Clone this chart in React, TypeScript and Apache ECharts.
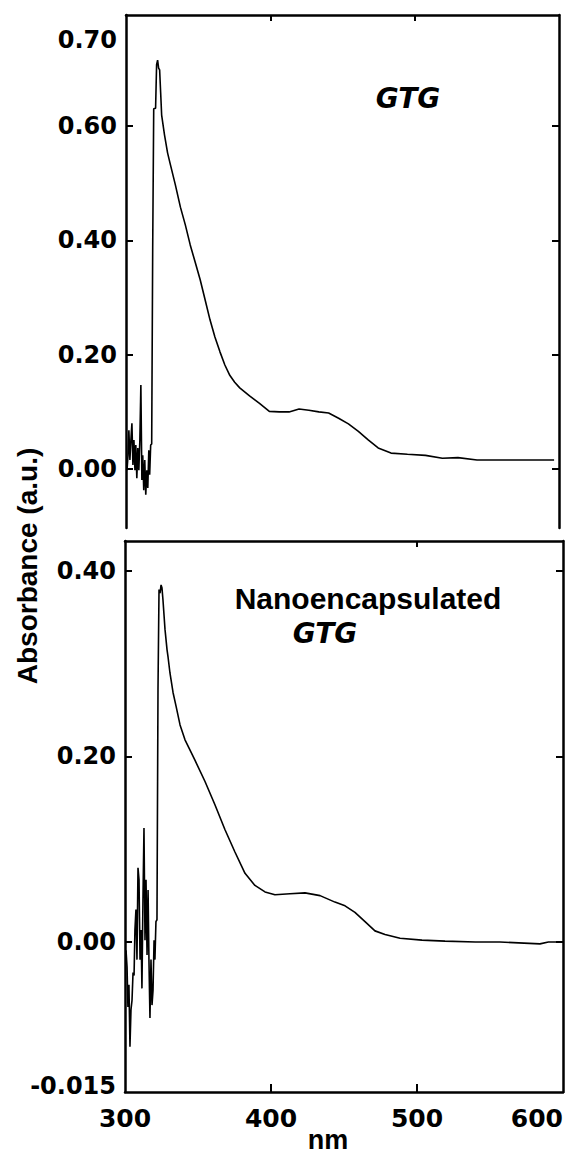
import React, { useEffect, useRef } from "react";
import * as echarts from "echarts";

// ---- data ----
const topWavelength = [300.7, 301.4, 302.0, 302.7, 303.4, 304.1, 304.8, 305.5, 306.2, 306.8, 307.5, 308.2, 308.9, 309.6, 310.3, 311.0, 311.6, 312.3, 313.0, 313.7, 314.4, 315.1, 315.8, 316.4, 317.1, 317.8, 318.5, 319.2, 320.5, 321.2, 321.9, 322.6, 323.3, 324.0, 324.7, 326.7, 328.8, 330.8, 334.2, 337.7, 341.1, 344.5, 347.9, 351.4, 354.8, 358.2, 361.6, 365.1, 368.5, 371.9, 375.3, 378.8, 385.6, 392.5, 399.3, 406.2, 413.0, 419.9, 426.7, 433.6, 440.4, 447.3, 454.1, 461.0, 467.8, 474.7, 483.6, 495.0, 507.5, 519.2, 530.0, 543.2, 560.0, 580.0, 596.6];
const topAbsorbance = [-0.002, 0.024, 0.068, 0.016, 0.051, 0.080, 0.007, 0.051, -0.002, 0.042, -0.016, 0.037, -0.002, 0.051, 0.147, -0.019, 0.024, -0.037, 0.016, -0.045, -0.002, -0.033, 0.033, -0.010, 0.042, 0.044, 0.388, 0.630, 0.631, 0.707, 0.715, 0.701, 0.698, 0.659, 0.619, 0.584, 0.553, 0.532, 0.497, 0.458, 0.427, 0.392, 0.362, 0.331, 0.296, 0.261, 0.231, 0.205, 0.182, 0.164, 0.152, 0.142, 0.128, 0.115, 0.101, 0.100, 0.100, 0.105, 0.103, 0.100, 0.098, 0.089, 0.079, 0.066, 0.051, 0.037, 0.028, 0.026, 0.024, 0.019, 0.020, 0.016, 0.016, 0.016, 0.016];

const bottomWavelength = [300.7, 301.4, 302.0, 302.7, 303.4, 304.1, 304.8, 305.5, 306.2, 306.8, 307.5, 308.2, 308.9, 309.6, 310.3, 311.0, 311.6, 312.3, 313.0, 313.7, 314.4, 315.1, 315.8, 316.4, 317.1, 317.8, 318.5, 319.2, 319.9, 320.5, 321.2, 321.9, 322.6, 323.3, 324.0, 324.7, 325.3, 326.0, 326.7, 327.4, 328.8, 329.5, 330.8, 332.9, 335.0, 337.7, 341.1, 347.9, 354.8, 361.6, 368.5, 375.3, 382.2, 389.0, 395.9, 402.7, 413.0, 423.3, 433.6, 443.8, 450.7, 457.5, 464.4, 471.2, 478.1, 488.4, 503.4, 519.2, 540.0, 556.8, 584.2, 590.0, 598.0];
const bottomAbsorbance = [-0.009, -0.027, -0.070, -0.046, -0.113, -0.073, -0.063, -0.033, -0.036, 0.013, 0.035, -0.019, 0.080, 0.067, -0.019, 0.013, -0.050, 0.045, 0.123, 0.002, 0.067, -0.014, 0.056, -0.019, -0.082, -0.019, -0.068, -0.052, 0.002, -0.019, 0.022, 0.024, 0.272, 0.380, 0.376, 0.385, 0.382, 0.369, 0.353, 0.337, 0.315, 0.307, 0.290, 0.269, 0.254, 0.234, 0.218, 0.196, 0.173, 0.148, 0.121, 0.097, 0.074, 0.061, 0.054, 0.051, 0.052, 0.053, 0.050, 0.043, 0.039, 0.032, 0.022, 0.012, 0.008, 0.004, 0.002, 0.001, 0.000, 0.000, -0.002, 0.000, 0.000];

const xTickValues = [300, 400, 500, 600];
const topTickValues = [0, 0.2, 0.4, 0.6];
const topLabelValues = [0, 0.2, 0.4, 0.6, 0.75];
const topLabelTexts = ["0.00", "0.20", "0.40", "0.60", "0.70"];
const bottomTickValues = [0, 0.2, 0.4];
const bottomLabelValues = [-0.155, 0, 0.2, 0.4];
const bottomLabelTexts = ["-0.015", "0.00", "0.20", "0.40"];

const topTitle = "GTG";
const bottomTitleLine1 = "Nanoencapsulated";
const bottomTitleLine2 = "GTG";
const yTitle = "Absorbance (a.u.)";
const xTitle = "nm";

const pair = (xs: number[], ys: number[]) => xs.map((x, i) => [x, ys[i]]);

const TICK_FONT = "'DejaVu Sans', sans-serif";
const TEXT_FONT = "'Liberation Sans', Arial, sans-serif";

export default function App() {
  const ref = useRef<HTMLDivElement>(null);
  useEffect(() => {
    document.body.style.margin = "0";
    const chart = echarts.init(ref.current!, null, { renderer: "svg" });
    const lineStyle = { color: "#000", width: 2.5 };
    const axisLine = { show: true, onZero: false, lineStyle };
    const tickStyle = { color: "#000", width: 2 };
    const labelStyle = {
      color: "#000",
      fontFamily: TICK_FONT,
      fontWeight: "bold" as const,
      fontSize: 24,
    };
    const topFmt = (v: number) => {
      const i = topLabelValues.findIndex((t) => Math.abs(t - v) < 1e-6);
      return i >= 0 ? topLabelTexts[i] : "";
    };
    const botFmt = (v: number) => {
      const i = bottomLabelValues.findIndex((t) => Math.abs(t - v) < 1e-6);
      return i >= 0 ? bottomLabelTexts[i] : "";
    };
    chart.setOption({
      animation: false,
      backgroundColor: "#fff",
      grid: [
        { left: 126, top: 15, width: 433, height: 513, outerBoundsMode: "none", containLabel: false },
        { left: 125, top: 541, width: 438, height: 551, outerBoundsMode: "none", containLabel: false },
      ],
      xAxis: [
        {
          gridIndex: 0, type: "value", min: 300, max: 600, position: "top",
          axisLine,
          axisTick: { show: true, inside: true, length: 6, lineStyle: tickStyle, customValues: [400, 500] },
          axisLabel: { show: false },
          splitLine: { show: false },
        },
        {
          gridIndex: 1, type: "value", min: 300, max: 600, position: "bottom",
          axisLine,
          axisTick: { show: true, inside: true, length: 8, lineStyle: tickStyle, customValues: [400, 500] },
          axisLabel: {
            ...labelStyle, fontSize: 25, margin: 14, customValues: xTickValues,
            alignMaxLabel: "right",
          },
          splitLine: { show: false },
        },
        {
          gridIndex: 1, type: "value", min: 300, max: 600, position: "top",
          axisLine,
          axisTick: { show: true, inside: true, length: 6, lineStyle: tickStyle, customValues: [500] },
          axisLabel: { show: false },
          splitLine: { show: false },
        },
      ],
      yAxis: [
        {
          gridIndex: 0, type: "value", min: -0.103, max: 0.794, position: "left",
          axisLine,
          axisTick: { show: true, inside: true, length: 7, lineStyle: tickStyle, customValues: topTickValues },
          axisLabel: { ...labelStyle, margin: 9, customValues: topLabelValues, formatter: topFmt },
          splitLine: { show: false },
        },
        {
          gridIndex: 0, type: "value", min: -0.103, max: 0.794, position: "right",
          axisLine,
          axisTick: { show: true, inside: true, length: 7, lineStyle: tickStyle, customValues: topTickValues },
          axisLabel: { show: false },
          splitLine: { show: false },
        },
        {
          gridIndex: 1, type: "value", min: -0.1617, max: 0.4323, position: "left",
          axisLine,
          axisTick: { show: true, inside: true, length: 7, lineStyle: tickStyle, customValues: bottomTickValues },
          axisLabel: { ...labelStyle, margin: 9, customValues: bottomLabelValues, formatter: botFmt },
          splitLine: { show: false },
        },
        {
          gridIndex: 1, type: "value", min: -0.1617, max: 0.4323, position: "right",
          axisLine,
          axisTick: { show: true, inside: true, length: 7, lineStyle: tickStyle, customValues: bottomTickValues },
          axisLabel: { show: false },
          splitLine: { show: false },
        },
      ],
      series: [
        {
          type: "line", xAxisIndex: 0, yAxisIndex: 0,
          data: pair(topWavelength, topAbsorbance),
          showSymbol: false, lineStyle: { color: "#000", width: 1.6 },
        },
        {
          type: "line", xAxisIndex: 1, yAxisIndex: 2,
          data: pair(bottomWavelength, bottomAbsorbance),
          showSymbol: false, lineStyle: { color: "#000", width: 1.6 },
        },
      ],
      graphic: [
        {
          type: "text", x: 408, y: 98,
          style: {
            text: topTitle, fill: "#000", font: `italic bold 28px ${TICK_FONT}`,
            align: "center", verticalAlign: "middle",
          },
        },
        {
          type: "text", x: 368, y: 598,
          style: {
            text: bottomTitleLine1, fill: "#000", font: `bold 30px ${TEXT_FONT}`,
            align: "center", verticalAlign: "middle",
          },
        },
        {
          type: "text", x: 325, y: 633,
          style: {
            text: bottomTitleLine2, fill: "#000", font: `italic bold 28px ${TICK_FONT}`,
            align: "center", verticalAlign: "middle",
          },
        },
        {
          type: "text", x: 27, y: 566, rotation: Math.PI / 2,
          style: {
            text: yTitle, fill: "#000", font: `bold 28px ${TEXT_FONT}`,
            align: "center", verticalAlign: "middle",
          },
        },
        {
          type: "text", x: 328, y: 1140,
          style: {
            text: xTitle, fill: "#000", font: `bold 27px ${TEXT_FONT}`,
            align: "center", verticalAlign: "middle",
          },
        },
      ],
    });
    return () => chart.dispose();
  }, []);
  return <div ref={ref} style={{ width: 571, height: 1157 }} />;
}
